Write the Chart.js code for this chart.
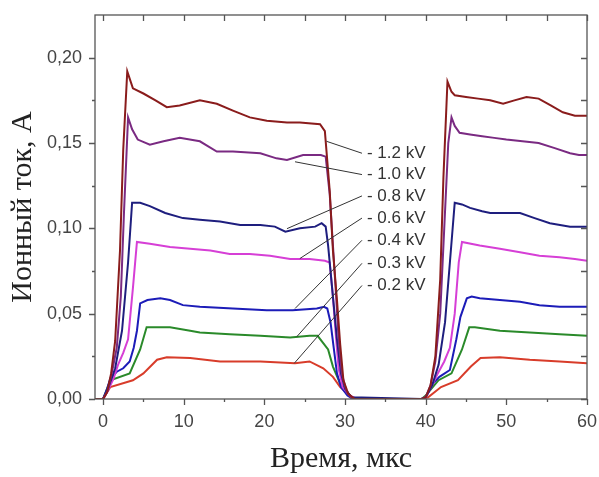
<!DOCTYPE html>
<html>
<head>
<meta charset="utf-8">
<script src="https://cdn.jsdelivr.net/npm/chart.js@4.4.1/dist/chart.umd.min.js"></script>
<style>
  html, body { margin: 0; padding: 0; background: #fff; }
  #wrap { width: 599px; height: 477px; }
</style>
</head>
<body>
<div id="wrap"><canvas id="pulseChart" width="599" height="477"></canvas></div>
<script>
// ion current pulses, time in microseconds, current in amperes
const t12 = [-1, 0, 0.5, 1.0, 1.5, 2.1, 2.5, 3.0, 3.7, 5.0, 6.5, 7.9, 9.5, 12.0, 14.1, 16.1, 18.2, 20.3, 22.8, 24.4, 26.9, 27.5, 28.1, 28.5, 29.0, 29.4, 29.8, 30.4, 31.2,
  39.5, 40.0, 40.6, 41.2, 41.8, 42.2, 42.7, 43.2, 43.6, 45.0, 46.5, 48.0, 49.6, 51.0, 52.5, 54.0, 55.5, 57.0, 58.5, 60];
const i12 = [0, 0, 0.004, 0.015, 0.034, 0.087, 0.146, 0.192, 0.182, 0.179, 0.175, 0.171, 0.172, 0.175, 0.173, 0.169, 0.165, 0.163, 0.162, 0.162, 0.161, 0.157, 0.122, 0.087, 0.058, 0.032, 0.011, 0.003, 0,
  0, 0.001, 0.008, 0.025, 0.07, 0.13, 0.186, 0.180, 0.178, 0.177, 0.176, 0.175, 0.173, 0.175, 0.177, 0.176, 0.172, 0.168, 0.166, 0.166];

const t10 = [-1, 0, 0.6, 1.2, 1.7, 2.2, 2.6, 3.1, 3.6, 4.3, 5.8, 7.5, 9.5, 12.0, 14.1, 16.1, 19.5, 21.5, 22.8, 24.8, 27.0, 27.6, 28.1, 28.5, 28.9, 29.2, 29.6, 30.2, 30.9,
  39.5, 40.0, 40.6, 41.2, 41.8, 42.3, 42.8, 43.2, 43.6, 44.2, 45.5, 47.0, 48.5, 50.0, 52.0, 54.0, 56.0, 57.9, 59.0, 60];
const i10 = [0, 0, 0.005, 0.018, 0.03, 0.06, 0.11, 0.165, 0.158, 0.152, 0.149, 0.151, 0.153, 0.151, 0.145, 0.145, 0.144, 0.141, 0.140, 0.143, 0.143, 0.142, 0.12, 0.09, 0.06, 0.035, 0.015, 0.004, 0,
  0, 0.001, 0.008, 0.022, 0.05, 0.1, 0.15, 0.165, 0.160, 0.156, 0.155, 0.154, 0.153, 0.152, 0.151, 0.150, 0.147, 0.144, 0.143, 0.143];

const t08 = [-1, 0, 0.6, 1.5, 2.35, 3.1, 3.6, 4.6, 5.8, 7.7, 9.9, 12.0, 14.5, 17.0, 19.5, 21.3, 22.6, 24.4, 26.3, 27.1, 27.6, 27.9, 28.2, 28.6, 29.0, 29.5, 30.0, 30.8,
  39.5, 40.0, 40.8, 41.6, 42.4, 43.0, 43.6, 44.5, 45.5, 47.0, 48.0, 50.4, 51.7, 53.5, 55.4, 57.9, 60];
const i08 = [0, 0, 0.006, 0.018, 0.04, 0.08, 0.115, 0.115, 0.113, 0.109, 0.106, 0.105, 0.104, 0.102, 0.102, 0.101, 0.098, 0.100, 0.101, 0.103, 0.101, 0.09, 0.075, 0.055, 0.035, 0.015, 0.006, 0.001,
  0, 0.001, 0.008, 0.02, 0.045, 0.08, 0.115, 0.114, 0.112, 0.110, 0.109, 0.109, 0.109, 0.106, 0.103, 0.101, 0.101];

const t06 = [-1, 0, 0.6, 1.3, 1.85, 2.5, 3.1, 3.7, 4.2, 5.8, 8.3, 10.8, 13.3, 15.7, 18.2, 20.7, 23.2, 25.6, 27.5, 28.1, 28.5, 28.9, 29.2, 29.7, 30.6, 31.5,
  39.5, 40.0, 40.8, 41.5, 42.3, 43.0, 43.6, 44.1, 44.5, 46.7, 49.2, 51.7, 54.1, 56.6, 58.5, 60];
const i06 = [0, 0, 0.005, 0.012, 0.02, 0.027, 0.035, 0.065, 0.092, 0.091, 0.089, 0.088, 0.087, 0.085, 0.085, 0.084, 0.082, 0.082, 0.081, 0.080, 0.06, 0.035, 0.018, 0.007, 0.002, 0,
  0, 0.001, 0.008, 0.015, 0.022, 0.03, 0.05, 0.08, 0.092, 0.090, 0.088, 0.086, 0.084, 0.083, 0.082, 0.081];

const t04 = [-1, 0, 0.5, 0.9, 1.7, 2.5, 3.3, 3.8, 4.2, 4.6, 5.5, 7.1, 8.3, 9.9, 12.0, 16.1, 20.3, 23.5, 26.5, 27.4, 27.8, 28.2, 28.6, 29.0, 29.5, 30.3, 31.0,
  39.5, 40.0, 40.9, 41.7, 43.0, 43.8, 44.3, 45.1, 45.7, 46.7, 49.2, 51.7, 54.1, 56.6, 60];
const i04 = [0, 0, 0.006, 0.012, 0.016, 0.018, 0.022, 0.03, 0.04, 0.056, 0.058, 0.059, 0.058, 0.055, 0.054, 0.053, 0.052, 0.052, 0.053, 0.054, 0.053, 0.045, 0.03, 0.015, 0.007, 0.002, 0,
  0, 0.001, 0.009, 0.013, 0.017, 0.035, 0.048, 0.059, 0.060, 0.059, 0.058, 0.057, 0.055, 0.054, 0.054];

const t03 = [-1, 0, 0.9, 3.3, 4.6, 5.4, 6.5, 8.3, 10.8, 12.0, 15.7, 19.5, 23.2, 25.6, 26.6, 27.9, 28.5, 29.4, 30.3, 30.9,
  39.5, 40.0, 41.6, 43.2, 44.5, 45.4, 46.1, 49.2, 52.9, 56.6, 60];
const i03 = [0, 0, 0.011, 0.015, 0.029, 0.042, 0.042, 0.042, 0.040, 0.039, 0.038, 0.037, 0.036, 0.037, 0.037, 0.029, 0.019, 0.009, 0.004, 0,
  0, 0.002, 0.011, 0.015, 0.029, 0.042, 0.042, 0.040, 0.039, 0.038, 0.037];

const t02 = [-1, 0, 0.9, 3.7, 5.0, 6.7, 7.9, 10.8, 14.5, 19.5, 23.8, 25.6, 27.3, 28.5, 29.4, 30.6, 31.2,
  39.5, 40.3, 41.9, 44.0, 45.6, 46.8, 49.2, 52.9, 56.6, 60];
const i02 = [0, 0, 0.007, 0.011, 0.015, 0.023, 0.0245, 0.024, 0.022, 0.022, 0.021, 0.022, 0.018, 0.013, 0.007, 0.002, 0,
  0, 0.001, 0.007, 0.011, 0.019, 0.024, 0.0245, 0.023, 0.022, 0.021];

const seriesNames = ['1.2 kV', '1.0 kV', '0.8 kV', '0.6 kV', '0.4 kV', '0.3 kV', '0.2 kV'];
const seriesTimes = [t12, t10, t08, t06, t04, t03, t02];
const seriesCurrents = [i12, i10, i08, i06, i04, i03, i02];
const seriesColors = ['#8a1c1c', '#7a2a82', '#1e1e7e', '#d63fd6', '#1c1cb8', '#2a8a2a', '#d83c2a'];

// callout labels: where the leader line touches a curve, and the label height
const calloutTouchX = [27.7, 23.8, 22.8, 24.4, 23.8, 24.0, 23.7];
const calloutTouchY = [0.151, 0.139, 0.0998, 0.0823, 0.053, 0.0364, 0.0209];
const calloutLabelY = [0.144, 0.1315, 0.119, 0.106, 0.093, 0.0795, 0.0665];
const calloutLabelX = 32.1;

const xMajor = [0, 10, 20, 30, 40, 50, 60];
const xMinor = [5, 15, 25, 35, 45, 55];
const yMajor = [0, 0.05, 0.10, 0.15, 0.20];
const yMinor = [0.025, 0.075, 0.125, 0.175];

const axisColor = '#555';

// box frame with outward ticks on bottom/left and inward ticks on top/right
const framePlugin = {
  id: 'frame',
  afterDraw(chart) {
    const { ctx, chartArea: a, scales: { x, y } } = chart;
    ctx.save();
    ctx.strokeStyle = axisColor;
    ctx.lineWidth = 1.3;
    ctx.strokeRect(a.left, a.top, a.right - a.left, a.bottom - a.top);
    ctx.beginPath();
    xMajor.forEach(v => {
      const px = Math.round(x.getPixelForValue(v)) + 0.5;
      ctx.moveTo(px, a.bottom); ctx.lineTo(px, a.bottom + 6);
      ctx.moveTo(px, a.top); ctx.lineTo(px, a.top + 6);
    });
    xMinor.forEach(v => {
      const px = Math.round(x.getPixelForValue(v)) + 0.5;
      ctx.moveTo(px, a.bottom); ctx.lineTo(px, a.bottom + 3);
      ctx.moveTo(px, a.top); ctx.lineTo(px, a.top + 6);
    });
    yMajor.forEach(v => {
      const py = Math.round(y.getPixelForValue(v)) + 0.5;
      ctx.moveTo(a.left, py); ctx.lineTo(a.left - 6, py);
      ctx.moveTo(a.right, py); ctx.lineTo(a.right - 6, py);
    });
    yMinor.forEach(v => {
      const py = Math.round(y.getPixelForValue(v)) + 0.5;
      ctx.moveTo(a.left, py); ctx.lineTo(a.left - 3, py);
      ctx.moveTo(a.right, py); ctx.lineTo(a.right - 6, py);
    });
    ctx.stroke();
    ctx.restore();
  }
};

// leader lines and voltage labels
const calloutPlugin = {
  id: 'callouts',
  afterDatasetsDraw(chart) {
    const { ctx, scales: { x, y } } = chart;
    ctx.save();
    ctx.strokeStyle = '#333';
    ctx.lineWidth = 1;
    ctx.fillStyle = '#333';
    ctx.font = '17px "Liberation Sans", Arial, sans-serif';
    ctx.textBaseline = 'middle';
    const endX = x.getPixelForValue(calloutLabelX);
    seriesNames.forEach((name, i) => {
      const ly = y.getPixelForValue(calloutLabelY[i]);
      ctx.beginPath();
      ctx.moveTo(x.getPixelForValue(calloutTouchX[i]), y.getPixelForValue(calloutTouchY[i]));
      ctx.lineTo(endX, ly);
      ctx.stroke();
      ctx.fillText('- ' + name, endX + 5, ly);
    });
    ctx.restore();
  }
};

const datasets = seriesNames.map((name, k) => ({
  label: name,
  data: seriesTimes[k].map((t, i) => ({ x: t, y: seriesCurrents[k][i] })),
  borderColor: seriesColors[k],
  borderWidth: 2,
  pointRadius: 0,
  fill: false,
  tension: 0
}));

const tickFont = { family: '"Liberation Sans", Arial, sans-serif', size: 18 };
const titleFont = { family: '"Liberation Serif", "Times New Roman", serif', size: 30 };

new Chart(document.getElementById('pulseChart'), {
  type: 'line',
  data: { datasets },
  options: {
    responsive: false,
    animation: false,
    layout: { padding: { top: 15, right: 12, left: 0, bottom: 0 } },
    plugins: { legend: { display: false }, tooltip: { enabled: false } },
    scales: {
      x: {
        type: 'linear',
        min: -1,
        max: 60,
        afterBuildTicks: s => { s.ticks = xMajor.map(v => ({ value: v })); },
        afterFit: s => { s.height = 78; s.paddingLeft = 0; s.paddingRight = 0; },
        grid: { display: false, drawTicks: false },
        border: { display: false },
        ticks: { font: tickFont, color: '#444', padding: 12, maxRotation: 0 },
        title: { display: true, text: 'Время, мкс', font: titleFont, color: '#222', padding: { top: 0, bottom: 0 } }
      },
      y: {
        type: 'linear',
        min: 0,
        max: 0.225,
        afterBuildTicks: s => { s.ticks = yMajor.map(v => ({ value: v })); },
        afterFit: s => { s.width = 95; s.paddingTop = 0; s.paddingBottom = 0; },
        grid: { display: false, drawTicks: false },
        border: { display: false },
        ticks: { font: tickFont, color: '#444', padding: 13, callback: v => v.toFixed(2).replace('.', ',') },
        title: { display: true, text: 'Ионный ток, А', font: titleFont, color: '#222', padding: { top: 5, bottom: 0 } }
      }
    }
  },
  plugins: [framePlugin, calloutPlugin]
});
</script>
</body>
</html>
